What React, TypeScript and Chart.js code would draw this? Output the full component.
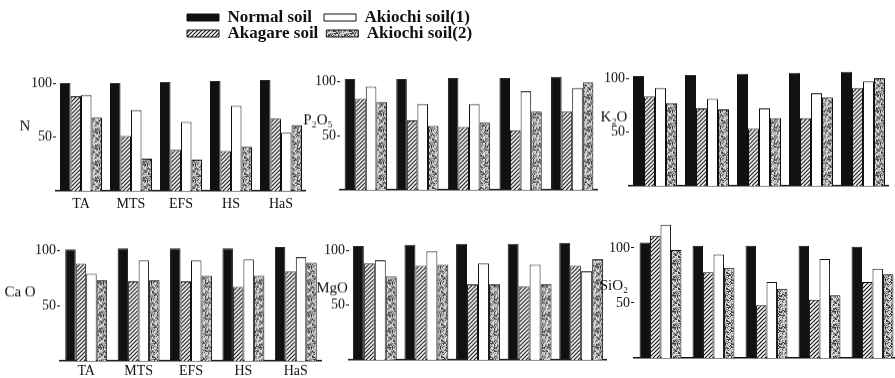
import React, { useEffect, useRef } from "react";
import { Chart, registerables } from "chart.js";
Chart.register(...registerables);

const categories = ["TA", "MTS", "EFS", "HS", "HaS"];
const seriesNames = ["Normal soil", "Akagare soil", "Akiochi soil(1)", "Akiochi soil(2)"];
const yTicks = [50, 100];

const nNormal = [100, 100, 101, 102, 103];
const nAkagare = [88, 51, 38, 37, 67];
const nAkiochi1 = [89, 75, 64, 79, 54];
const nAkiochi2 = [68, 30, 29, 41, 61];

const p2o5Normal = [102, 102, 103, 103, 104];
const p2o5Akagare = [84, 64, 58, 55, 72];
const p2o5Akiochi1 = [95, 79, 79, 91, 94];
const p2o5Akiochi2 = [81, 59, 62, 72, 99];

const k2oNormal = [102, 103, 104, 105, 106];
const k2oAkagare = [83, 72, 53, 63, 91];
const k2oAkiochi1 = [91, 81, 72, 86, 97];
const k2oAkiochi2 = [77, 71, 63, 82, 100];

const caoNormal = [101, 102, 102, 102, 103];
const caoAkagare = [88, 72, 72, 67, 81];
const caoAkiochi1 = [79, 91, 91, 92, 94];
const caoAkiochi2 = [73, 73, 77, 77, 89];

const mgoNormal = [104, 105, 106, 106, 107];
const mgoAkagare = [88, 86, 69, 67, 86];
const mgoAkiochi1 = [91, 99, 88, 87, 81];
const mgoAkiochi2 = [76, 87, 69, 69, 92];

const sio2Normal = [105, 102, 102, 102, 101];
const sio2Akagare = [111, 78, 48, 53, 69];
const sio2Akiochi1 = [121, 94, 69, 90, 81];
const sio2Akiochi2 = [98, 82, 63, 57, 76];

const SERIF = "'Liberation Serif', 'DejaVu Serif', serif";
const INK = "#111";
const YW = 62;
const XH = 22;

type Panel = {
  label: string;
  data: number[][];
  max: number;
  L: number;
  R: number;
  B: number;
  Y100: number;
  cat: number;
  xLabels: boolean;
  xPad: number;
  dx: number;
  at: number;
};

const panels: Panel[] = [
  { label: "N", data: [nNormal, nAkagare, nAkiochi1, nAkiochi2], max: 110, L: 56, R: 306, B: 191, Y100: 75, cat: 0.84, xLabels: true, xPad: -3, dx: 31, at: 60 },
  { label: "P₂O₅", data: [p2o5Normal, p2o5Akagare, p2o5Akiochi1, p2o5Akiochi2], max: 110, L: 340, R: 598, B: 190, Y100: 73, cat: 0.82, xLabels: false, xPad: 0, dx: 22, at: 64 },
  { label: "K₂O", data: [k2oNormal, k2oAkagare, k2oAkiochi1, k2oAkiochi2], max: 110, L: 629, R: 889, B: 186, Y100: 70, cat: 0.846, xLabels: false, xPad: 0, dx: 15, at: 64 },
  { label: "Ca O", data: [caoNormal, caoAkagare, caoAkiochi1, caoAkiochi2], max: 110, L: 60, R: 322, B: 361, Y100: 242, cat: 0.8, xLabels: true, xPad: -6, dx: 40, at: 62 },
  { label: "MgO", data: [mgoNormal, mgoAkagare, mgoAkiochi1, mgoAkiochi2], max: 110, L: 349, R: 607, B: 360, Y100: 242, cat: 0.85, xLabels: false, xPad: 0, dx: 17, at: 65 },
  { label: "SiO₂", data: [sio2Normal, sio2Akagare, sio2Akiochi1, sio2Akiochi2], max: 125, L: 634, R: 899, B: 358, Y100: 240, cat: 0.79, xLabels: false, xPad: 0, dx: 20, at: 65 },
];

function makeHatch(): CanvasPattern | string {
  const c = document.createElement("canvas");
  c.width = 4;
  c.height = 4;
  const g = c.getContext("2d");
  if (!g) return "#777";
  g.fillStyle = "#fff";
  g.fillRect(0, 0, 4, 4);
  g.strokeStyle = "#151515";
  g.lineWidth = 1.2;
  g.beginPath();
  g.moveTo(0, 4);
  g.lineTo(4, 0);
  g.moveTo(-1, 1);
  g.lineTo(1, -1);
  g.moveTo(3, 5);
  g.lineTo(5, 3);
  g.stroke();
  return g.createPattern(c, "repeat") || "#777";
}

function makeDots(): CanvasPattern | string {
  const s = 16;
  const c = document.createElement("canvas");
  c.width = s;
  c.height = s;
  const g = c.getContext("2d");
  if (!g) return "#999";
  const img = g.createImageData(s, s);
  for (let y = 0; y < s; y++) {
    for (let x = 0; x < s; x++) {
      const h = ((x * 73856093) ^ (y * 19349663) ^ (x * y * 83492791)) >>> 0;
      const v = h % 100;
      const shade = v < 25 ? 60 : v < 55 ? 145 : 218;
      const i = (y * s + x) * 4;
      img.data[i] = shade;
      img.data[i + 1] = shade;
      img.data[i + 2] = shade;
      img.data[i + 3] = 255;
    }
  }
  g.putImageData(img, 0, 0);
  return g.createPattern(c, "repeat") || "#999";
}

const sideLabel = {
  id: "sideLabel",
  afterDraw(chart: any, _args: any, opts: any) {
    if (!opts || !opts.text) return;
    const { ctx, chartArea, scales } = chart;
    const y = scales.y.getPixelForValue(opts.at);
    ctx.save();
    ctx.font = `15px ${SERIF}`;
    ctx.fillStyle = INK;
    ctx.textAlign = "center";
    ctx.textBaseline = "middle";
    ctx.fillText(opts.text, chartArea.left - opts.dx, y);
    ctx.restore();
  },
};

function fills() {
  return [INK, makeHatch(), "#fff", makeDots()];
}

function PanelChart({ p }: { p: Panel }) {
  const ref = useRef<HTMLCanvasElement>(null);
  const top = p.B - ((p.B - p.Y100) * p.max) / 100;
  const left = p.L - YW;
  const width = p.R - p.L + YW;
  const height = p.B - top + XH;
  useEffect(() => {
    if (!ref.current) return;
    const f = fills();
    const chart = new Chart(ref.current, {
      type: "bar",
      data: {
        labels: categories,
        datasets: p.data.map((d, i) => ({
          label: seriesNames[i],
          data: d,
          backgroundColor: f[i] as any,
          borderColor: INK,
          borderWidth: 1,
          barPercentage: 1,
          categoryPercentage: p.cat,
        })),
      },
      options: {
        responsive: false,
        animation: false,
        devicePixelRatio: 1,
        layout: { padding: 0, autoPadding: false },
        plugins: {
          legend: { display: false },
          tooltip: { enabled: false },
          sideLabel: { text: p.label, dx: p.dx, at: p.at },
        } as any,
        scales: {
          x: {
            grid: { display: false },
            border: { display: true, color: INK, width: 1.5 },
            ticks: {
              display: p.xLabels,
              color: INK,
              font: { family: SERIF, size: 14 },
              padding: p.xPad,
              maxRotation: 0,
            },
            afterFit(scale: any) {
              scale.height = XH;
            },
          },
          y: {
            min: 0,
            max: p.max,
            grid: { drawOnChartArea: false, drawTicks: true, tickLength: 3, color: INK },
            border: { display: false },
            ticks: {
              color: INK,
              font: { family: SERIF, size: 14 },
              padding: 1,
            },
            afterBuildTicks(scale: any) {
              scale.ticks = yTicks.map((v) => ({ value: v }));
            },
            afterFit(scale: any) {
              scale.width = YW;
            },
          },
        },
      },
      plugins: [sideLabel as any],
    });
    return () => chart.destroy();
  }, []);
  return (
    <canvas
      ref={ref}
      width={width}
      height={height}
      style={{ position: "absolute", left, top, width, height }}
    />
  );
}

function LegendRow({ show, top, pad }: { show: number[]; top: number; pad: number }) {
  const ref = useRef<HTMLCanvasElement>(null);
  useEffect(() => {
    if (!ref.current) return;
    const f = fills();
    const chart = new Chart(ref.current, {
      type: "bar",
      data: {
        labels: [],
        datasets: seriesNames.map((n, i) => ({
          label: n,
          data: [],
          backgroundColor: f[i] as any,
          borderColor: INK,
          borderWidth: 1,
        })),
      },
      options: {
        responsive: false,
        animation: false,
        devicePixelRatio: 1,
        layout: { padding: 0 },
        scales: { x: { display: false }, y: { display: false } },
        plugins: {
          tooltip: { enabled: false },
          legend: {
            display: true,
            position: "top",
            align: "start",
            labels: {
              boxWidth: 32,
              boxHeight: 7,
              color: INK,
              padding: pad,
              font: { family: SERIF, size: 17, weight: "bold" },
              filter: (item: any) => show.includes(item.datasetIndex),
            },
          },
        },
      },
    });
    return () => chart.destroy();
  }, []);
  return (
    <canvas
      ref={ref}
      width={330}
      height={90}
      style={{ position: "absolute", left: 187 - pad, top, width: 330, height: 90 }}
    />
  );
}

export default function App() {
  return (
    <div
      style={{
        position: "absolute",
        left: 0,
        top: 0,
        width: 895,
        height: 378,
        overflow: "hidden",
        background: "#fff",
      }}
    >
      {panels.map((p, i) => (
        <PanelChart key={i} p={p} />
      ))}
      <LegendRow show={[0, 2]} top={-3} pad={12} />
      <LegendRow show={[1, 3]} top={17} pad={8} />
    </div>
  );
}
